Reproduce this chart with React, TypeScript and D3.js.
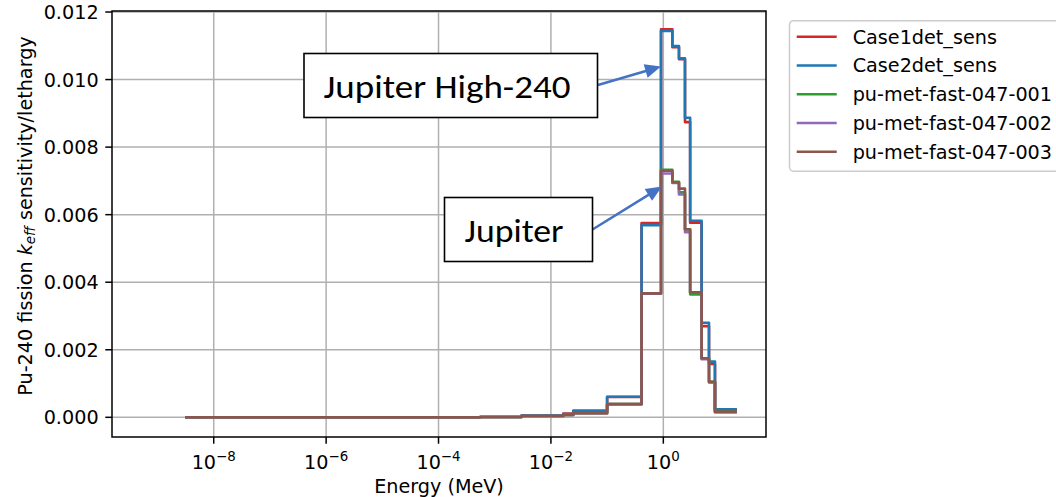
import React from 'react';
import * as d3 from 'd3';

// Bin edges (MeV) and per-bin sensitivity per lethargy values
const energyEdges = [3.1e-9, 5.5e-4, 3.0e-3, 0.0166, 0.025, 0.1, 0.41, 0.91, 1.45, 1.9, 2.43, 3.0, 4.8, 6.5, 8.3, 20.4];
const case1det = [0, 0.00001, 0.00005, 0.00011, 0.00019, 0.0006, 0.00575, 0.01149, 0.01096, 0.0106, 0.00874, 0.00576, 0.0027, 0.00158, 0.00022];
const case2det = [0, 0.00001, 0.00005, 0.0001, 0.000195, 0.00061, 0.00569, 0.01144, 0.01099, 0.01063, 0.00887, 0.00582, 0.0028, 0.00165, 0.00024];
const pmf001 = [0, 0.00001, 0.00004, 0.00007, 0.00012, 0.00039, 0.00366, 0.00733, 0.00697, 0.00666, 0.00556, 0.00364, 0.00174, 0.00105, 0.00016];
const pmf002 = [0, 0.00001, 0.00004, 0.00007, 0.00012, 0.00039, 0.00366, 0.00722, 0.00694, 0.0066, 0.00548, 0.00369, 0.00172, 0.00103, 0.00015];
const pmf003 = [0, 0.00001, 0.00004, 0.00007, 0.00012, 0.00039, 0.00367, 0.0073, 0.00696, 0.00677, 0.00557, 0.0037, 0.00175, 0.00105, 0.00016];

const seriesNames = ['Case1det_sens', 'Case2det_sens', 'pu-met-fast-047-001', 'pu-met-fast-047-002', 'pu-met-fast-047-003'];
const seriesValues = [case1det, case2det, pmf001, pmf002, pmf003];
const seriesColors = ['#d62728', '#1f77b4', '#2ca02c', '#9467bd', '#8c564b'];

const xTickExponents = [-8, -6, -4, -2, 0];
const yTicks = [0, 0.002, 0.004, 0.006, 0.008, 0.01, 0.012];
const yTickLabels = ['0.000', '0.002', '0.004', '0.006', '0.008', '0.010', '0.012'];

const annotations = [
  { text: 'Jupiter High-240', box: [304, 53.5, 293.5, 64], tx: 323.5, ty: 97.5, tw: 247, from: [598, 85], to: [661, 66.5] },
  { text: 'Jupiter', box: [444.5, 197.5, 148, 64], tx: 464.5, ty: 241.7, tw: 99, from: [592.5, 229.5], to: [662, 186.5] },
];

const FONT = "'DejaVu Sans', sans-serif";
const FS = 19.2;

export default function App() {
  const W = 1056, H = 497;
  const L = 112, R = 766, T = 11, B = 437;
  const x = d3.scaleLog().domain([Math.pow(10, -9.81), Math.pow(10, 1.827)]).range([L, R]);
  const y = d3.scaleLinear().domain([-0.000583, 0.01203]).range([B, T]);
  const line = d3.line<[number, number]>().x(d => x(d[0])).y(d => y(d[1])).curve(d3.curveStepAfter);
  const pathFor = (vals: number[]) => {
    const pts: [number, number][] = vals.map((v, i) => [energyEdges[i], v] as [number, number]);
    pts.push([energyEdges[energyEdges.length - 1], vals[vals.length - 1]]);
    return line(pts) || '';
  };
  const tickLen = 6.7;
  const gridColor = '#b0b0b0';

  const arrow = (from: number[], to: number[], key: string) => {
    const dx = to[0] - from[0], dy = to[1] - from[1];
    const len = Math.hypot(dx, dy);
    const ux = dx / len, uy = dy / len;
    const hl = 16, hw = 7;
    const bx = to[0] - ux * hl, by = to[1] - uy * hl;
    const px = -uy, py = ux;
    const pts = `${to[0]},${to[1]} ${bx + px * hw},${by + py * hw} ${bx - px * hw},${by - py * hw}`;
    return (
      <g key={key}>
        <line x1={from[0]} y1={from[1]} x2={bx + ux * 2} y2={by + uy * 2} stroke="#4472c4" strokeWidth={2.5} />
        <polygon points={pts} fill="#4472c4" />
      </g>
    );
  };

  return (
    <div style={{ position: 'absolute', left: 0, top: 0 }}>
      <svg width={W} height={H} style={{ display: 'block', background: '#fff' }} fontFamily={FONT}>
        <defs>
          <clipPath id="plotclip">
            <rect x={L} y={T} width={R - L} height={B - T} />
          </clipPath>
        </defs>
        {/* grid */}
        {xTickExponents.map(e => (
          <line key={'gx' + e} x1={x(Math.pow(10, e))} x2={x(Math.pow(10, e))} y1={T} y2={B} stroke={gridColor} strokeWidth={1.5} />
        ))}
        {yTicks.map(v => (
          <line key={'gy' + v} x1={L} x2={R} y1={y(v)} y2={y(v)} stroke={gridColor} strokeWidth={1.5} />
        ))}
        {/* series */}
        <g clipPath="url(#plotclip)">
          {seriesValues.map((vals, i) => (
            <path key={seriesNames[i]} d={pathFor(vals)} fill="none" stroke={seriesColors[i]} strokeWidth={2.6} strokeLinejoin="round" />
          ))}
        </g>
        {/* spines */}
        <rect x={L} y={T} width={R - L} height={B - T} fill="none" stroke="#000" strokeWidth={1.5} />
        {/* x ticks */}
        {xTickExponents.map(e => {
          const xx = x(Math.pow(10, e));
          return (
            <g key={'xt' + e}>
              <line x1={xx} x2={xx} y1={B} y2={B + tickLen} stroke="#000" strokeWidth={1.5} />
              <text x={xx} y={469} textAnchor="middle" fontSize={FS} fill="#000">
                10<tspan fontSize={13.4} dy={-8.5}>{e < 0 ? '\u2212' + Math.abs(e) : String(e)}</tspan>
              </text>
            </g>
          );
        })}
        {/* y ticks */}
        {yTicks.map((v, i) => (
          <g key={'yt' + v}>
            <line x1={L - tickLen} x2={L} y1={y(v)} y2={y(v)} stroke="#000" strokeWidth={1.5} />
            <text x={L - tickLen - 6.7} y={y(v) + 7} textAnchor="end" fontSize={FS} fill="#000">{yTickLabels[i]}</text>
          </g>
        ))}
        {/* axis labels */}
        <text x={(L + R) / 2} y={493} textAnchor="middle" fontSize={FS} fill="#000">Energy (MeV)</text>
        <text transform="translate(31.5,216) rotate(-90)" textAnchor="middle" fontSize={FS} fill="#000">
          Pu-240 fission <tspan fontStyle="italic">k</tspan><tspan fontSize={13.4} fontStyle="italic" dy={3.5}>eff</tspan><tspan dy={-3.5}> sensitivity/lethargy</tspan>
        </text>
        {/* legend */}
        <rect x={789.5} y={20.7} width={290} height={150.5} rx={4} ry={4} fill="#fff" fillOpacity={0.8} stroke="#cccccc" strokeWidth={1.5} />
        {seriesNames.map((name, i) => {
          const ry = 36.7 + i * 28.75;
          return (
            <g key={'lg' + name}>
              <line x1={796.7} x2={836.7} y1={ry} y2={ry} stroke={seriesColors[i]} strokeWidth={2.6} />
              <text x={852.7} y={ry + 6.8} fontSize={FS} fill="#000">{name}</text>
            </g>
          );
        })}
        {/* annotations */}
        {annotations.map(a => (
          <g key={'an' + a.text}>
            {arrow(a.from, a.to, 'ar' + a.text)}
            <rect x={a.box[0]} y={a.box[1]} width={a.box[2]} height={a.box[3]} fill="#fff" stroke="#000" strokeWidth={1.6} />
            <text x={a.tx} y={a.ty} fontSize={33} fontFamily="Carlito, Lato, 'Open Sans', sans-serif" fill="#000" textLength={a.tw} lengthAdjust="spacingAndGlyphs">{a.text}</text>
          </g>
        ))}
      </svg>
    </div>
  );
}
